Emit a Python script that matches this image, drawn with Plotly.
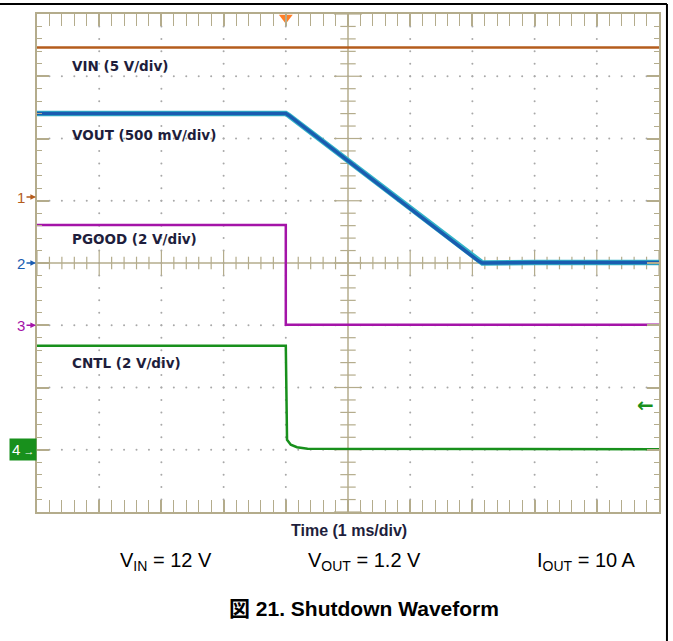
import numpy as np
import plotly.graph_objects as go

# scope settings: time in ms (trigger at 0), 10 x 8 divisions
t_range = [-4, 6]
div_range = [-4, 4]

# channel scales (V/div) and ground offsets (div)
ch_scale = {'VIN': 5.0, 'VOUT': 0.5, 'PGOOD': 2.0, 'CNTL': 2.0}
ch_offset = {'VIN': 1.06, 'VOUT': 0.0, 'PGOOD': -1.0, 'CNTL': -3.0}

# waveforms (ms, V)
t_vin = [-4, 0, 6]
vin = [12.0, 12.0, 12.0]

t_vout = [-4, 0, 0.05, 1.0, 2.0, 3.1, 3.16, 4.0, 6]
vout = [1.2, 1.2, 1.185, 0.82, 0.44, 0.015, 0.0, 0.005, 0.005]

t_pgood = [-4, 0.0, 0.0, 6]
pgood = [3.22, 3.22, 0.02, 0.02]

t_cntl = [-4, 0.0, 0.02, 0.08, 0.18, 0.35, 6]
cntl = [3.34, 3.34, 0.32, 0.16, 0.08, 0.03, 0.02]

trig_level_cntl = 1.44

grid_col = '#b4ac8c'
dot_col = '#a8a8a8'
col = {'VIN': '#b45c1c', 'VOUT': '#1a5cb0', 'PGOOD': '#a414a8', 'CNTL': '#18901c'}
font_family = 'Liberation Sans, Arial, sans-serif'
label_font = 'DejaVu Sans, Verdana, sans-serif'
label_col = '#1e1e3c'

fig = go.Figure()

# dotted graticule
minor_t = np.round(np.arange(t_range[0], t_range[1] + 0.001, 0.2), 3)
minor_d = np.round(np.arange(div_range[0], div_range[1] + 0.001, 0.2), 3)
center_t = (t_range[0] + t_range[1]) / 2
dx, dy = [], []
for yv in [-3, -2, -1, 1, 2, 3]:
    dx += list(minor_t[1:-1])
    dy += [yv] * (len(minor_t) - 2)
for xv in np.arange(t_range[0] + 1, t_range[1]):
    if xv == center_t:
        continue
    dx += [xv] * (len(minor_d) - 2)
    dy += list(minor_d[1:-1])
fig.add_trace(go.Scatter(x=dx, y=dy, mode='markers',
                         marker=dict(size=2, color=dot_col), hoverinfo='skip'))

# cross ticks on the centre lines
is_major_t = np.isclose(minor_t, np.round(minor_t))
is_major_d = np.isclose(minor_d, np.round(minor_d))
for sel, size in [(~is_major_t, 9), (is_major_t, 18)]:
    fig.add_trace(go.Scatter(x=minor_t[sel], y=[0] * sel.sum(), mode='markers',
                             marker=dict(symbol='line-ns', size=size, color=grid_col,
                                         line=dict(color=grid_col, width=1.2)),
                             hoverinfo='skip'))
for sel, size in [(~is_major_d, 11), (is_major_d, 20)]:
    fig.add_trace(go.Scatter(x=[center_t] * sel.sum(), y=minor_d[sel], mode='markers',
                             marker=dict(symbol='line-ew', size=size, color=grid_col,
                                         line=dict(color=grid_col, width=1.2)),
                             hoverinfo='skip'))

# waveforms, each on its own volts axis
fig.add_trace(go.Scatter(x=t_vin, y=vin, mode='lines', yaxis='y2',
                         line=dict(color=col['VIN'], width=2.5)))
fig.add_trace(go.Scatter(x=t_vout, y=vout, mode='lines', yaxis='y3',
                         line=dict(color='#33b4c8', width=5.5)))
fig.add_trace(go.Scatter(x=t_vout, y=vout, mode='lines', yaxis='y3',
                         line=dict(color=col['VOUT'], width=3.5)))
fig.add_trace(go.Scatter(x=t_pgood, y=pgood, mode='lines', yaxis='y4',
                         line=dict(color=col['PGOOD'], width=2.5)))
fig.add_trace(go.Scatter(x=t_cntl, y=cntl, mode='lines', yaxis='y5',
                         line=dict(color=col['CNTL'], width=2.5)))

# trigger position marker
fig.add_trace(go.Scatter(x=[0], y=[div_range[1] - 0.06], mode='markers', cliponaxis=False,
                         marker=dict(symbol='triangle-down', size=12, color='#ff7f27'),
                         hoverinfo='skip'))


def volt_axis(name):
    s, o = ch_scale[name], ch_offset[name]
    return dict(range=[(div_range[0] - o) * s, (div_range[1] - o) * s],
                overlaying='y', visible=False, fixedrange=True)


fig.update_layout(
    width=673, height=641, autosize=False,
    margin=dict(l=37, r=12, t=13, b=129),
    paper_bgcolor='white', plot_bgcolor='white',
    showlegend=False, hovermode=False,
    font=dict(family=font_family, color='black'),
    xaxis=dict(range=t_range, showgrid=False, zeroline=False, showticklabels=False,
               showline=True, linecolor=grid_col, linewidth=2, mirror='allticks',
               ticks='inside', tick0=0, dtick=1, ticklen=12, tickwidth=1.5, tickcolor=grid_col,
               minor=dict(ticks='inside', dtick=0.2, ticklen=5, tickwidth=1, tickcolor=grid_col)),
    yaxis=dict(range=div_range, showgrid=False, zeroline=False, showticklabels=False,
               showline=True, linecolor=grid_col, linewidth=2, mirror='allticks',
               ticks='inside', tick0=0, dtick=1, ticklen=12, tickwidth=1.5, tickcolor=grid_col,
               minor=dict(ticks='inside', dtick=0.2, ticklen=5, tickwidth=1, tickcolor=grid_col)),
    yaxis2=volt_axis('VIN'),
    yaxis3=volt_axis('VOUT'),
    yaxis4=volt_axis('PGOOD'),
    yaxis5=volt_axis('CNTL'),
)

# centre lines
fig.add_shape(type='line', x0=center_t, x1=center_t, y0=div_range[0], y1=div_range[1],
              line=dict(color=grid_col, width=1.5), layer='below')
fig.add_shape(type='line', x0=t_range[0], x1=t_range[1], y0=0, y1=0,
              line=dict(color=grid_col, width=1.5), layer='below')

# page frame (top and right rules)
fig.add_shape(type='line', xref='paper', yref='paper', x0=-0.06, x1=1.0128, y0=1.02, y1=1.02,
              line=dict(color='black', width=2))
fig.add_shape(type='line', xref='paper', yref='paper', x0=1.0128, x1=1.0128, y0=1.02, y1=-0.26,
              line=dict(color='black', width=2))

# channel ground markers
ch_num = {'VIN': '1', 'VOUT': '2', 'PGOOD': '3', 'CNTL': '4'}
ch_ax = {'VIN': 'y2', 'VOUT': 'y3', 'PGOOD': 'y4', 'CNTL': 'y5'}
for name in ['VIN', 'VOUT', 'PGOOD']:
    fig.add_annotation(xref='paper', yref=ch_ax[name], x=0, y=0, text=ch_num[name],
                       showarrow=True, ax=-16, ay=0, arrowhead=2, arrowsize=0.7, arrowwidth=1.6,
                       arrowcolor=col[name], standoff=1,
                       font=dict(size=15, color=col[name]))
fig.add_annotation(xref='paper', yref=ch_ax['CNTL'], x=0, y=0,
                   text='4<span style="font-size:11px"> →</span>',
                   showarrow=False, xanchor='right', yanchor='middle',
                   bgcolor=col['CNTL'], borderpad=2,
                   font=dict(size=15, color='white'))

# trigger level arrow
fig.add_annotation(x=t_range[1], y=trig_level_cntl, yref='y5', text='<b>←</b>',
                   showarrow=False, xanchor='right', yanchor='middle', xshift=-3,
                   font=dict(size=20, color=col['CNTL'], family=label_font))

# channel labels
labels = [('VIN (5 V/div)', 3.17), ('VOUT (500 mV/div)', 2.06),
          ('PGOOD (2 V/div)', 0.38), ('CNTL (2 V/div)', -1.6)]
for txt, yv in labels:
    fig.add_annotation(x=t_range[0] + 0.53, y=yv, text=f'<b>{txt}</b>', showarrow=False,
                       xanchor='left', yanchor='middle',
                       font=dict(size=13.5, color=label_col, family=label_font))

# captions below the screen
fig.add_annotation(xref='paper', yref='paper', x=0.5016, y=-0.038, text='<b>Time (1 ms/div)</b>',
                   showarrow=False, xanchor='center', yanchor='middle',
                   font=dict(size=16, color=label_col))
conds = [('V<sub>IN</sub> = 12 V', 0.2067),
         ('V<sub>OUT</sub> = 1.2 V', 0.5272),
         ('I<sub>OUT</sub> = 10 A', 0.8830)]
for txt, xp in conds:
    fig.add_annotation(xref='paper', yref='paper', x=xp, y=-0.1, text=txt, showarrow=False,
                       xanchor='center', yanchor='middle', font=dict(size=20, color='black'))
fig.add_annotation(xref='paper', yref='paper', x=0.5256, y=-0.194,
                   text='<b>図 21. Shutdown Waveform</b>', showarrow=False,
                   xanchor='center', yanchor='middle',
                   font=dict(size=21, color='black',
                             family='Liberation Sans, Arial, Noto Sans CJK JP, sans-serif'))

fig.write_html("out.html", config={'displayModeBar': False},
               post_script="document.body.style.margin='0px';")
